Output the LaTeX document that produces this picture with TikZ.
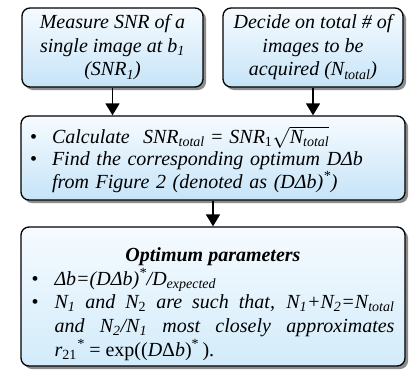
\documentclass[tikz,border=0pt]{standalone}
\usepackage{fontspec}
\setmainfont{Liberation Serif}
\usetikzlibrary{arrows.meta,shadows}
\definecolor{boxtop}{RGB}{246,251,255}
\definecolor{boxbot}{RGB}{198,228,248}
\definecolor{resbot}{RGB}{210,235,250}
\definecolor{shadowcol}{gray}{0.55}
\newcommand{\bul}[1]{\hangindent=#1\hangafter=1\noindent\hbox to #1{\upshape\textbullet\hfil}}
\newcommand{\sbs}[1]{\textsubscript{#1}}
\tikzset{
  stepbox/.style={draw=black,line width=1.3pt,rounded corners=8pt,top color=boxtop,bottom color=boxbot,
    drop shadow={shadow xshift=3pt,shadow yshift=-3pt,fill=shadowcol,opacity=1},
    font=\fontsize{20}{23.5}\selectfont\itshape,inner sep=0pt},
  resbox/.style={stepbox,bottom color=resbot},
  flow/.style={line width=1.5pt,-{Triangle[width=14pt,length=12pt]}},
}

\begin{document}
\begin{tikzpicture}[x=1pt,y=1pt]
  \useasboundingbox (0,0) rectangle (417,-370);
  % inputs
  \node[stepbox,minimum width=181pt,minimum height=79pt,align=center] (snr) at (112.5,-47.5)
    {Measure SNR of a\\ single image at \textit{b}\sbs{1}\\ (SNR\sbs{1})};
  \node[stepbox,minimum width=180pt,minimum height=79pt,align=center] (ntot) at (313,-47.5)
    {Decide on total \# of\\ images to be\\ acquired (\textit{N}\sbs{total})};
  % calculation
  \node[stepbox,text width=366pt,inner xsep=9pt,minimum height=84pt,align=left,
    font=\fontsize{20}{22.5}\selectfont\itshape] (calc) at (213,-158)
    {\bul{22pt}\rule{0pt}{20pt}Calculate\ \ SNR\sbs{total}~{\upshape =}~SNR\sbs{\upshape 1}$\sqrt{\hbox{\itshape N\textsubscript{total}}}$\par
     \bul{22pt}Find the corresponding optimum \textit{D}Δ\textit{b}\newline from Figure 2 (denoted as (\textit{D}Δ\textit{b})\textsuperscript{*})\par};
  % result
  \node[resbox,text width=363pt,inner xsep=10.5pt,minimum height=139pt,align=justify,
    font=\fontsize{20}{23.75}\selectfont\itshape] (opt) at (213,-296.5)
    {\makebox[\linewidth]{\rule{0pt}{29pt}\bfseries Optimum parameters}\par
     \bul{23pt}Δ\textit{b}=(\textit{D}Δ\textit{b})\textsuperscript{*}/\textit{D}\sbs{expected}\par
     \bul{23pt}\textit{N}\sbs{1} and \textit{N}\sbs{\upshape 2} are such that, \textit{N}\sbs{1}+\textit{N}\sbs{2}=\textit{N}\sbs{total}\linebreak
     and \textit{N}\sbs{2}/\textit{N}\sbs{1} most closely approximates\linebreak
     \ \textit{r}\textsubscript{\upshape 21}\textsuperscript{*}~{\upshape = exp((}\textit{D}{\upshape Δ}\textit{b}{\upshape )\textsuperscript{*}\,).}\par};
  % connectors
  \draw[flow] (snr.south) -- (snr.south |- calc.north);
  \draw[flow] (ntot.south) -- (ntot.south |- calc.north);
  \draw[flow] (calc.south) -- (calc.south |- opt.north);
\end{tikzpicture}
\end{document}
